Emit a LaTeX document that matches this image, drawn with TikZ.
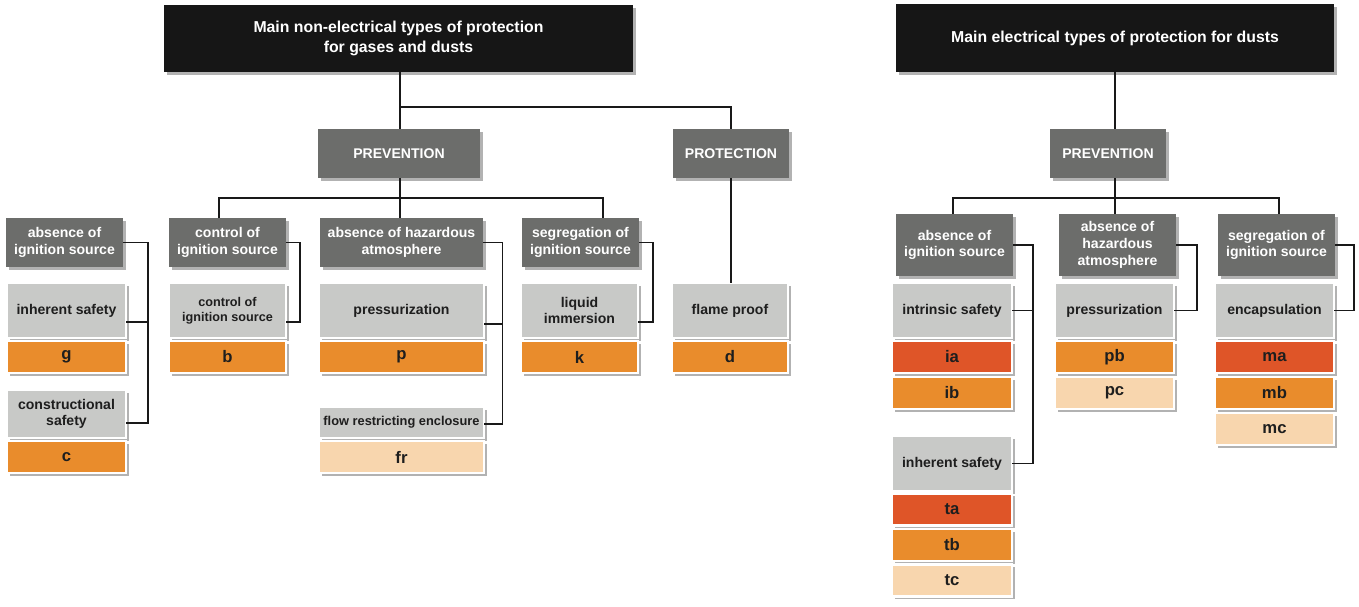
\documentclass[tikz,border=0pt]{standalone}
\usepackage{fontspec}
\setmainfont{Liberation Sans}
\usepackage{xcolor}
\usetikzlibrary{positioning,calc,shadows}
\definecolor{titleblack}{RGB}{22,22,22}
\definecolor{headgray}{RGB}{108,109,107}
\definecolor{typegray}{RGB}{200,201,199}
\definecolor{levelorange}{RGB}{233,140,44}
\definecolor{levelred}{RGB}{223,85,40}
\definecolor{levelpeach}{RGB}{248,214,174}
\definecolor{textdark}{RGB}{30,30,30}
\definecolor{wireblack}{RGB}{25,25,25}

\begin{document}
\begin{tikzpicture}[
    x=0.02cm, y=-0.02cm,
    every node/.style={
        font=\fontsize{8}{9.5}\selectfont\bfseries,
        align=center,
        inner sep=1pt,
        outer sep=0pt
    },
    softshadow/.style={
        drop shadow={shadow xshift=1.6pt, shadow yshift=-1.6pt, opacity=0.3, fill=black}
    },
    maintitle/.style={
        fill=titleblack,
        text=white,
        font=\fontsize{9}{11}\selectfont\bfseries,
        softshadow
    },
    head/.style={
        fill=headgray,
        text=white,
        minimum height=#1,
        softshadow
    },
    head/.default=0.98cm,
    typebox/.style={
        fill=typegray,
        draw=white,
        line width=1.5pt,
        text=textdark,
        minimum height=#1,
        softshadow
    },
    typebox/.default=1.10cm,
    levelbox/.style={
        fill=#1,
        draw=white,
        line width=1.5pt,
        text=textdark,
        font=\fontsize{9.5}{11}\selectfont\bfseries,
        minimum height=0.64cm,
        softshadow
    },
    wire/.style={
        draw=wireblack,
        line width=0.7pt
    }
]

    \fill[white] (0,0) rectangle (1359,606);
    \useasboundingbox (0,0) rectangle (1359,606);

    % ---------------- non-electrical (gases and dusts) ----------------
    \node[maintitle, minimum width=9.38cm, minimum height=1.34cm] (T1) at (398.5,38.5)
        {Main non-electrical types of protection\\for gases and dusts};

    \node[head, minimum width=3.24cm] (prev1) at (399,153.5) {PREVENTION};
    \node[head, minimum width=2.32cm] (prot1) at (731,153.5) {PROTECTION};

    % principles
    \node[head, minimum width=2.34cm] (hA1) at (64.5,242.5) {absence of\\ignition source};
    \node[head, minimum width=2.34cm] (hC1) at (227.5,242.5) {control of\\ignition source};
    \node[head, minimum width=3.26cm] (hH1) at (401.5,242.5) {absence of hazardous\\atmosphere};
    \node[head, minimum width=2.34cm] (hS1) at (580.5,242.5) {segregation of\\ignition source};

    % types of protection
    \node[typebox, minimum width=2.38cm] (gIS) at (66.5,310.5) {inherent safety};
    \node[typebox, minimum width=2.34cm, font=\fontsize{7.2}{8.6}\selectfont\bfseries] (gCI) at (227.5,310.5)
        {control of\\ignition source};
    \node[typebox, minimum width=3.30cm] (gPR) at (401.5,310.5) {pressurization};
    \node[typebox, minimum width=2.34cm] (gLI) at (579.5,310.5) {liquid\\immersion};
    \node[typebox, minimum width=2.32cm] (gFP) at (730,310.5) {flame proof};
    \node[typebox=0.96cm, minimum width=2.38cm] (gCS) at (66.5,414) {constructional\\safety};
    \node[typebox=0.62cm, minimum width=3.30cm, font=\fontsize{7.3}{8.6}\selectfont\bfseries] (gFR) at (401.5,422.5)
        {flow restricting enclosure};

    % codes
    \node[levelbox=levelorange, minimum width=2.38cm, below=0.06cm of gIS] (cG) {g};
    \node[levelbox=levelorange, minimum width=2.34cm, below=0.06cm of gCI] (cB) {b};
    \node[levelbox=levelorange, minimum width=3.30cm, below=0.06cm of gPR] (cP) {p};
    \node[levelbox=levelorange, minimum width=2.34cm, below=0.06cm of gLI] (cK) {k};
    \node[levelbox=levelorange, minimum width=2.32cm, below=0.06cm of gFP] (cD) {d};
    \node[levelbox=levelorange, minimum width=2.38cm, below=0.06cm of gCS] (cC) {c};
    \node[levelbox=levelpeach, minimum width=3.30cm, below=0.06cm of gFR] (cFR) {fr};

    % connectors
    \coordinate (jT1) at (400,107);
    \draw[wire] (jT1 |- T1.south) -- (jT1 |- prev1.north);
    \draw[wire] (jT1) -| (prot1.north);
    \draw[wire] (jT1 |- prev1.south) -- (jT1 |- hH1.north);
    \draw[wire] ($(hC1.north)+(-8.5,0)$) -- ++(0,-20) -- ($(hS1.north)+(22.5,-20)$) -- ++(0,20);
    \draw[wire] (prot1.south) -- (prot1.south |- gFP.north);

    \draw[wire] (hA1.east) -- ++(25,0) coordinate (jA1) |- ($(gIS.east)+(0,11.5)$);
    \draw[wire] (jA1) |- ($(gCS.east)+(0,9)$);
    \draw[wire] (hC1.east) -- ++(14,0) |- ($(gCI.east)+(0,11.5)$);
    \draw[wire] (hH1.east) -- ++(19.5,0) coordinate (jH1) |- ($(gPR.east)+(0,13.5)$);
    \draw[wire] (jH1) |- ($(gFR.east)+(0,1.5)$);
    \draw[wire] (hS1.east) -- ++(14,0) |- ($(gLI.east)+(0,11.5)$);

    % ---------------- electrical (dusts) ----------------
    \node[maintitle, minimum width=8.76cm, minimum height=1.36cm] (T2) at (1115,38)
        {Main electrical types of protection for dusts};

    \node[head, minimum width=2.32cm] (prev2) at (1108,153.5) {PREVENTION};

    % principles
    \node[head=1.24cm, minimum width=2.34cm] (hA2) at (954.5,245) {absence of\\ignition source};
    \node[head=1.24cm, minimum width=2.34cm] (hH2) at (1117.5,245) {absence of\\hazardous\\atmosphere};
    \node[head=1.24cm, minimum width=2.34cm] (hS2) at (1276.5,245) {segregation of\\ignition source};

    % types of protection
    \node[typebox, minimum width=2.40cm] (gIN) at (952,310.5) {intrinsic safety};
    \node[typebox, minimum width=2.38cm] (gPR2) at (1114.5,310.5) {pressurization};
    \node[typebox, minimum width=2.38cm] (gEN) at (1274.5,310.5) {encapsulation};
    \node[typebox, minimum width=2.40cm] (gIH) at (952,463.5) {inherent safety};

    % equipment protection levels
    \node[levelbox=levelred, minimum width=2.40cm, below=0.06cm of gIN] (cIA) {ia};
    \node[levelbox=levelorange, minimum width=2.40cm, below=0.08cm of cIA] (cIB) {ib};
    \node[levelbox=levelorange, minimum width=2.38cm, below=0.06cm of gPR2] (cPB) {pb};
    \node[levelbox=levelpeach, minimum width=2.38cm, below=0.08cm of cPB] (cPC) {pc};
    \node[levelbox=levelred, minimum width=2.38cm, below=0.06cm of gEN] (cMA) {ma};
    \node[levelbox=levelorange, minimum width=2.38cm, below=0.08cm of cMA] (cMB) {mb};
    \node[levelbox=levelpeach, minimum width=2.38cm, below=0.08cm of cMB] (cMC) {mc};
    \node[levelbox=levelred, minimum width=2.40cm, below=0.05cm of gIH] (cTA) {ta};
    \node[levelbox=levelorange, minimum width=2.40cm, below=0.07cm of cTA] (cTB) {tb};
    \node[levelbox=levelpeach, minimum width=2.40cm, below=0.07cm of cTB] (cTC) {tc};

    % connectors
    \draw[wire] (T2.south) -- (T2.south |- prev2.north);
    \draw[wire] (T2.south |- prev2.south) -- (T2.south |- hH2.north);
    \draw[wire] ($(hA2.north)+(-1.5,0)$) -- ++(0,-16) -- ($(hS2.north)+(2.5,-16)$) -- ++(0,16);

    \draw[wire] (hA2.east) -- ++(20,0) coordinate (jA2) |- (gIN.east);
    \draw[wire] (jA2) |- (gIH.east);
    \draw[wire] (hH2.east) -- ++(21,0) |- (gPR2.east);
    \draw[wire] (hS2.east) -- ++(19,0) |- (gEN.east);

\end{tikzpicture}
\end{document}
